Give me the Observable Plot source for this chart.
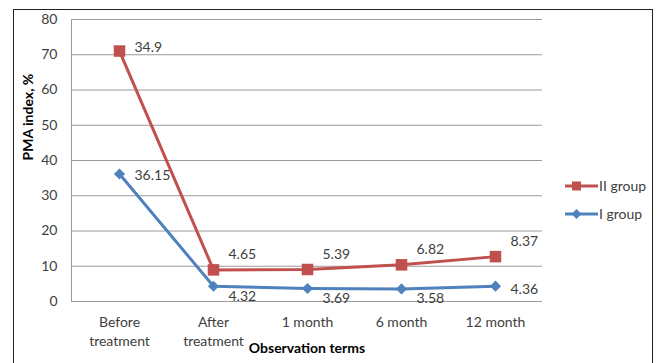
<!DOCTYPE html>
<html><head><meta charset="utf-8">
<script src="https://cdn.jsdelivr.net/npm/d3@7"></script>
<script src="https://cdn.jsdelivr.net/npm/@observablehq/plot@0.6"></script>
<style>
body{margin:0;width:658px;height:363px;overflow:hidden;background:#fff;position:relative;font-family:Lato,sans-serif}
#frame{position:absolute;left:13px;top:9px;width:638px;height:400px;border:1px solid #222;pointer-events:none}
#chart{position:absolute;left:0;top:0}
#legend{position:absolute;left:560px;top:172px;font-size:14px;color:#404040;line-height:28px}
#legend div{display:flex;align-items:center;height:28px}
</style></head><body>
<div id="chart"></div><div id="frame"></div><div id="legend"></div>
<script>
const categories = ["Before\ntreatment", "After\ntreatment", "1 month", "6 month", "12 month"];
const groupI = [36.15, 4.32, 3.69, 3.58, 4.36];
const groupII = [34.9, 4.65, 5.39, 6.82, 8.37];
const seriesNames = ["II group", "I group"];
const seriesColors = ["#C0504D", "#4F81BD"];
const yTicks = [0, 10, 20, 30, 40, 50, 60, 70, 80];
const yTitle = "PMA index, %";
const xTitle = "Observation terms";

// stacked line chart: II group is drawn on top of I group
const rowsI = categories.map((c, i) => ({cat: c, group: "I group", value: groupI[i], y: groupI[i], i}));
const rowsII = categories.map((c, i) => ({cat: c, group: "II group", value: groupII[i], y: groupI[i] + groupII[i], i}));
const rows = rowsI.concat(rowsII);

const red = seriesColors[0], blue = seriesColors[1];
const fmt = d => String(d.value);
const labelFont = {fontSize: 14, fill: "#404040", textAnchor: "start", dx: 15};

const chart = Plot.plot({
  width: 658, height: 363,
  marginLeft: 71, marginRight: 116, marginTop: 19, marginBottom: 62,
  style: {fontFamily: "Lato, sans-serif", fontSize: "14px", color: "#404040", background: "transparent", overflow: "visible"},
  x: {type: "point", domain: categories, padding: 0.5},
  y: {domain: [0, 80]},
  marks: [
    Plot.gridY(yTicks, {stroke: "#9a9a9a", strokeOpacity: 1}),
    Plot.frame({anchor: "left", stroke: "#9a9a9a"}),
    Plot.axisY(yTicks, {tickSize: 0, tickPadding: 14, label: null, fill: "#404040"}),
    Plot.axisX({tickSize: 0, tickPadding: 12, label: null, lineHeight: 1.35, fill: "#404040"}),
    Plot.text([yTitle], {frameAnchor: "left", rotate: -90, dx: -43, text: d => d, fontWeight: "bold", fill: "#000", fontSize: 14}),
    Plot.text([xTitle], {frameAnchor: "bottom", dy: 51, text: d => d, fontWeight: "bold", fill: "#000", fontSize: 14}),
    Plot.line(rowsI, {x: "cat", y: "y", stroke: blue, strokeWidth: 3}),
    Plot.line(rowsII, {x: "cat", y: "y", stroke: red, strokeWidth: 3}),
    Plot.dot(rowsI, {x: "cat", y: "y", symbol: "diamond2", r: 5, fill: blue, stroke: "none"}),
    Plot.dot(rowsII, {x: "cat", y: "y", symbol: "square", r: 6.5, fill: red, stroke: "none"}),
    Plot.text(rowsII.filter(d => d.i === 0), {x: "cat", y: "y", text: fmt, ...labelFont, dy: -4}),
    Plot.text(rowsII.filter(d => d.i > 0), {x: "cat", y: "y", text: fmt, ...labelFont, dy: -15}),
    Plot.text(rowsI.filter(d => d.i === 0), {x: "cat", y: "y", text: fmt, ...labelFont, dy: 1}),
    Plot.text(rowsI.filter(d => d.i === 4), {x: "cat", y: "y", text: fmt, ...labelFont, dy: 3}),
    Plot.text(rowsI.filter(d => d.i > 0 && d.i < 4), {x: "cat", y: "y", text: fmt, ...labelFont, dy: 10})
  ]
});
document.getElementById("chart").appendChild(chart);

// legend
const legend = document.getElementById("legend");
seriesNames.forEach((name, k) => {
  const col = seriesColors[k];
  const marker = k === 0
    ? `<rect x="12" y="3.5" width="9" height="9" fill="${col}"/>`
    : `<path d="M16.5,3 L21.5,8 L16.5,13 L11.5,8 Z" fill="${col}"/>`;
  const row = document.createElement("div");
  row.innerHTML = `<svg width="39" height="16" style="display:block"><line x1="5" x2="38" y1="8" y2="8" stroke="${col}" stroke-width="3"/>${marker}</svg><span>${name}</span>`;
  legend.appendChild(row);
});
</script>
</body></html>
